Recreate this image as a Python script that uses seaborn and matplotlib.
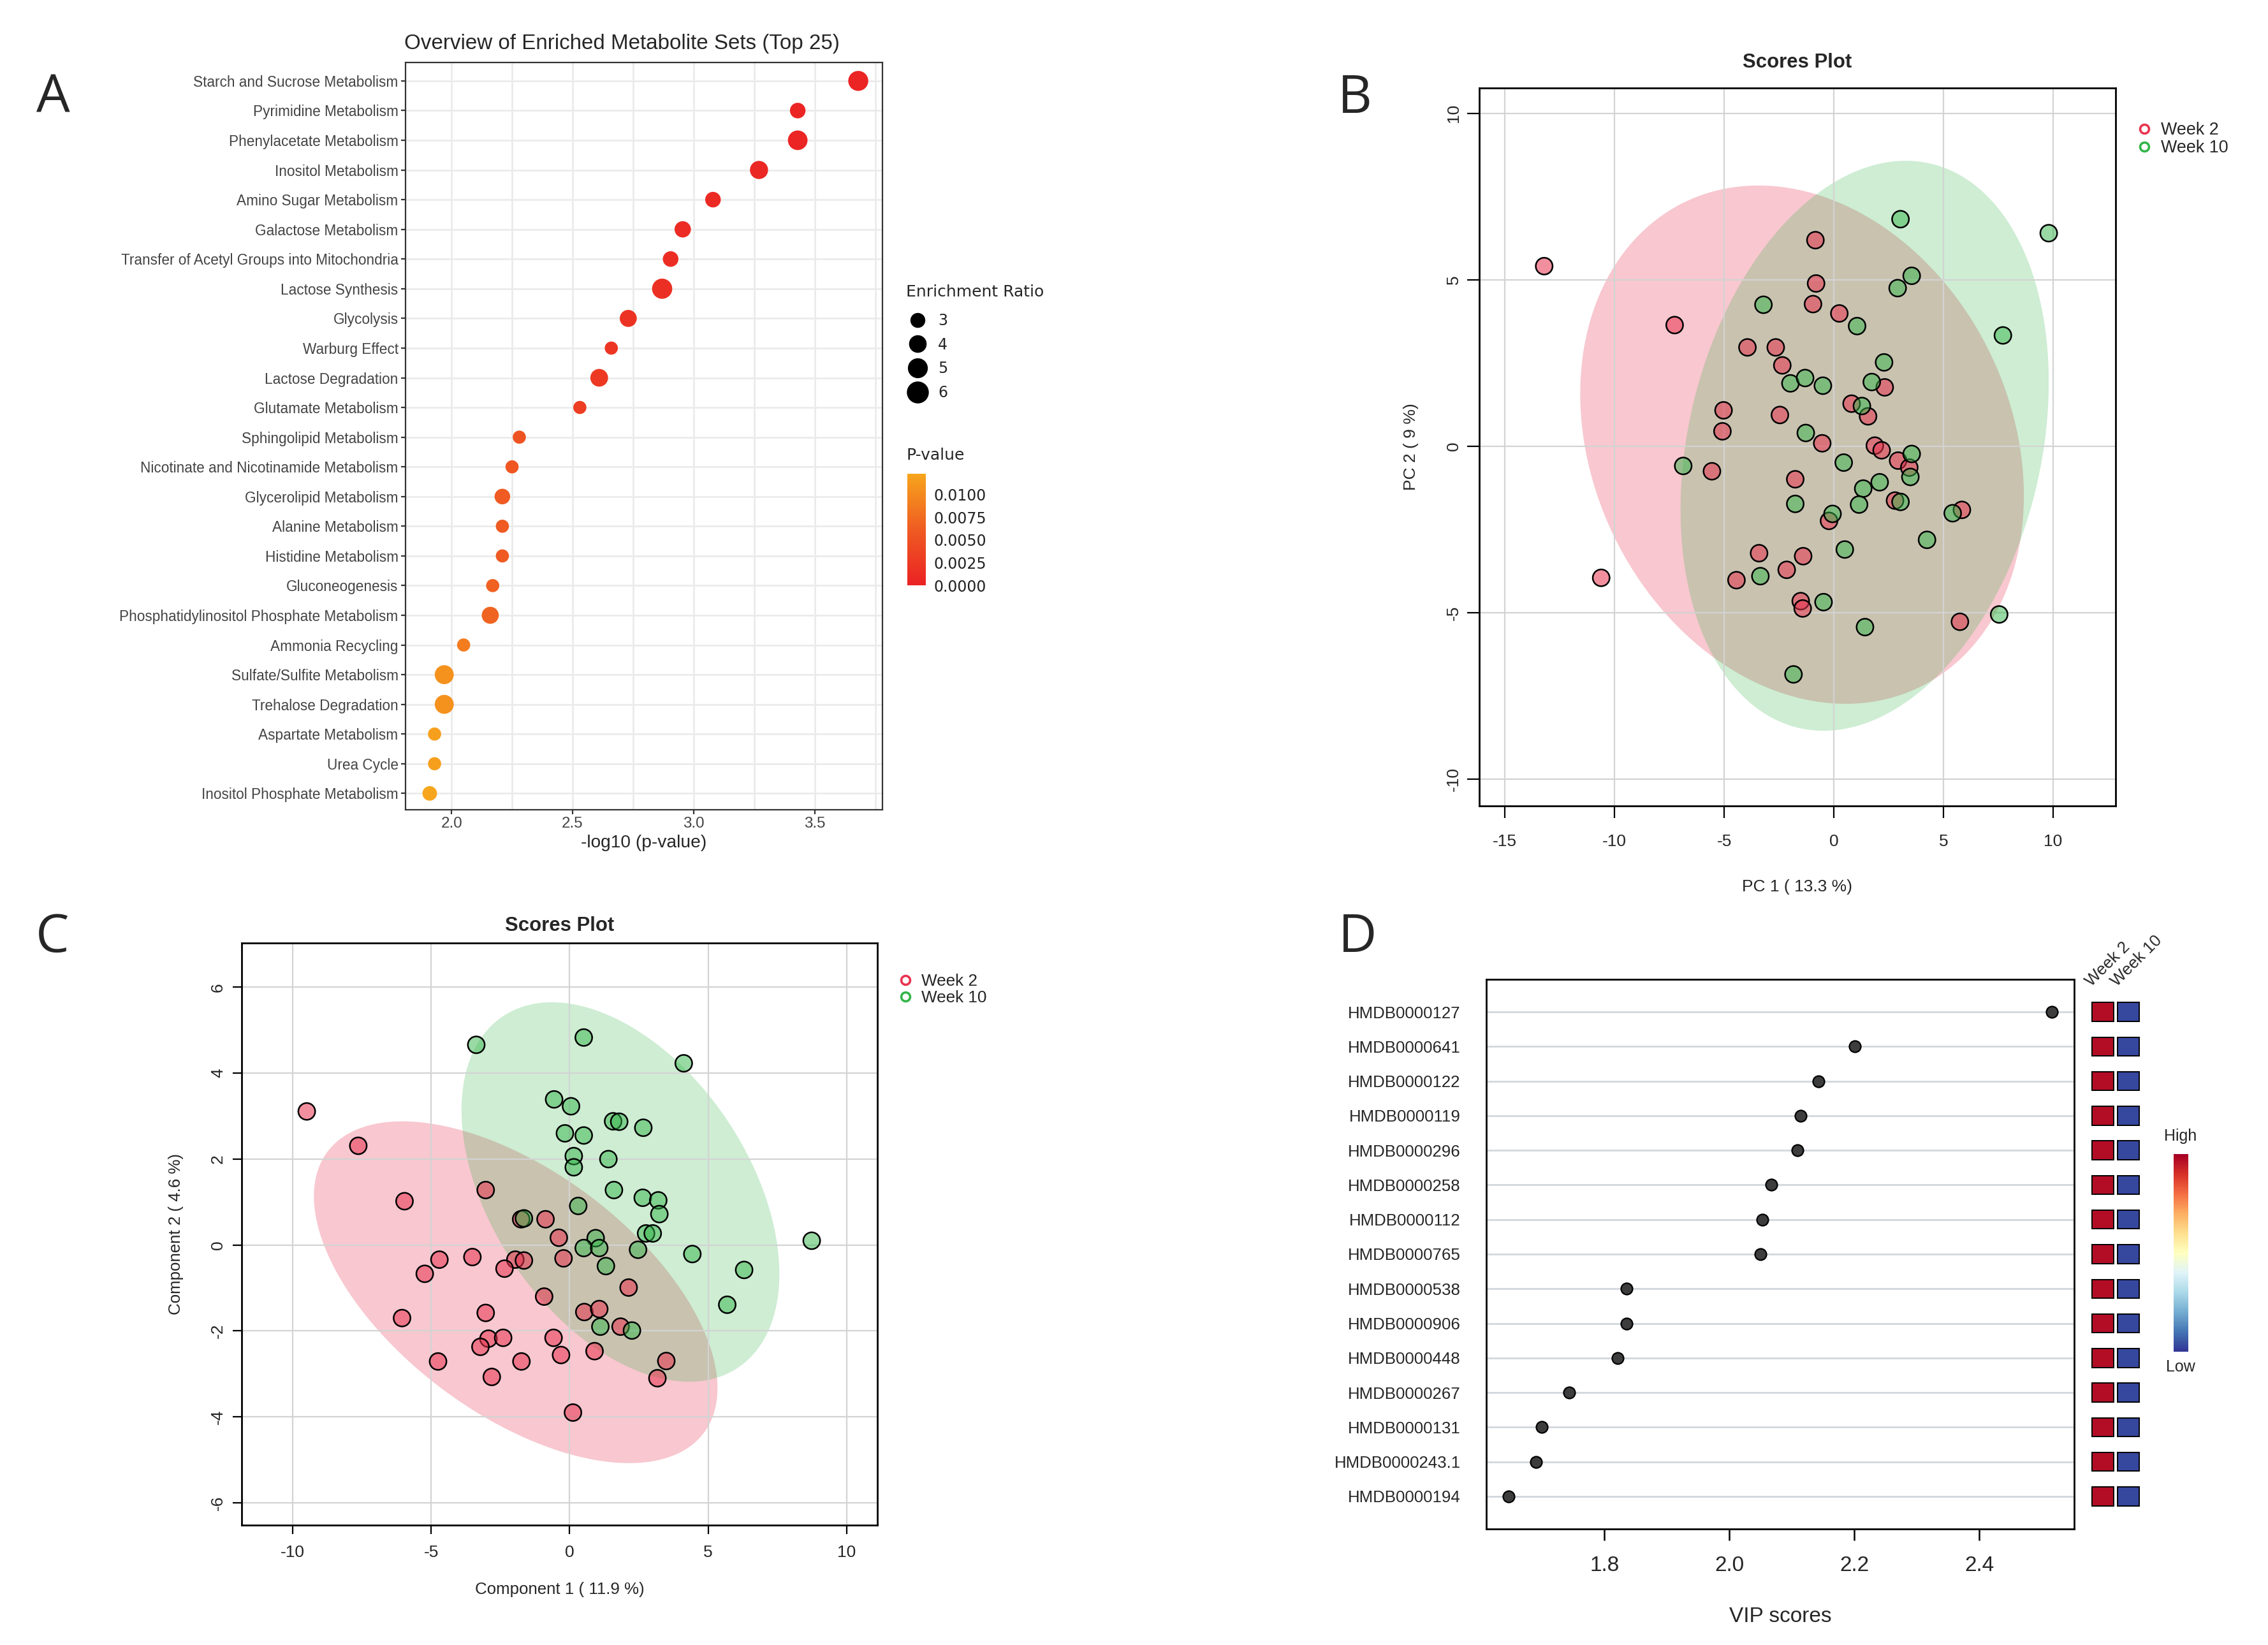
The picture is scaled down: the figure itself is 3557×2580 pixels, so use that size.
import numpy as np
import pandas as pd
import matplotlib
matplotlib.use("Agg")
import matplotlib.pyplot as plt
import matplotlib.cm as cm
from matplotlib import font_manager as fm
from matplotlib.colors import LinearSegmentedColormap, Normalize
from matplotlib.lines import Line2D
import seaborn as sns

# ---------------- A: enrichment overview ----------------
met_sets = ["Starch and Sucrose Metabolism", "Pyrimidine Metabolism", "Phenylacetate Metabolism",
            "Inositol Metabolism", "Amino Sugar Metabolism", "Galactose Metabolism",
            "Transfer of Acetyl Groups into Mitochondria", "Lactose Synthesis", "Glycolysis",
            "Warburg Effect", "Lactose Degradation", "Glutamate Metabolism",
            "Sphingolipid Metabolism", "Nicotinate and Nicotinamide Metabolism",
            "Glycerolipid Metabolism", "Alanine Metabolism", "Histidine Metabolism",
            "Gluconeogenesis", "Phosphatidylinositol Phosphate Metabolism", "Ammonia Recycling",
            "Sulfate/Sulfite Metabolism", "Trehalose Degradation", "Aspartate Metabolism",
            "Urea Cycle", "Inositol Phosphate Metabolism"]
neg_log10_p = [3.68, 3.43, 3.43, 3.27, 3.08, 2.955, 2.905, 2.87, 2.73, 2.66, 2.61, 2.53,
               2.28, 2.25, 2.21, 2.21, 2.21, 2.17, 2.16, 2.05, 1.97, 1.97, 1.93, 1.93, 1.91]
enrichment_ratio = [5.9, 3.9, 5.7, 5.0, 3.9, 4.2, 3.9, 6.3, 4.5, 2.8, 4.8, 2.1,
                    3.0, 3.0, 3.9, 2.6, 2.4, 2.8, 4.5, 1.5, 5.4, 5.4, 1.4, 1.6, 3.5]
ratio_legend = [3, 4, 5, 6]

# ---------------- B: PCA scores ----------------
pca_w2_x = [-13.21, -7.26, -10.61, -0.84, -0.81, -0.95, 0.25, -3.94, -2.65, -2.35, 2.32, 0.81,
            1.56, -5.03, -5.08, -2.46, -0.53, 1.87, 2.18, 2.93, 3.44, -5.56, -1.76, 2.79, 5.84,
            -0.22, -3.41, -1.40, -2.15, -4.44, -1.51, -1.42, 5.75]
pca_w2_y = [5.41, 3.64, -3.95, 6.19, 4.89, 4.27, 3.99, 2.97, 2.97, 2.43, 1.77, 1.28,
            0.90, 1.08, 0.45, 0.94, 0.09, 0.02, -0.12, -0.43, -0.64, -0.75, -0.99, -1.63, -1.91,
            -2.24, -3.21, -3.30, -3.71, -4.02, -4.65, -4.87, -5.27]
pca_w10_x = [3.04, 9.80, 3.55, 2.91, -3.21, 1.06, 7.71, 2.29, 1.73, -1.98, -1.31, -0.50, 1.28,
             -1.28, 3.55, 3.49, -6.87, 0.45, 2.09, 1.34, -1.76, 1.15, 3.04, -0.06, 5.42, 4.25,
             0.50, -3.35, -0.47, 7.54, 1.42, -1.84]
pca_w10_y = [6.82, 6.40, 5.12, 4.75, 4.25, 3.61, 3.33, 2.52, 1.93, 1.89, 2.05, 1.82, 1.21,
             0.40, -0.23, -0.92, -0.59, -0.49, -1.08, -1.27, -1.73, -1.75, -1.67, -2.03, -2.01,
             -2.81, -3.10, -3.90, -4.68, -5.05, -5.43, -6.85]

# ---------------- C: PLS-DA scores ----------------
pls_w2_x = [-9.49, -7.63, -5.96, -3.03, -0.87, -1.75, -0.39, -4.70, -3.51, -1.96, -1.65, -0.22,
            -2.35, -5.23, -0.92, 2.13, -6.05, -3.03, 0.53, 1.07, 1.84, -2.93, -2.40, -0.58,
            -3.22, -4.75, -1.74, -0.31, 0.90, 3.49, -2.81, 3.17, 0.12]
pls_w2_y = [3.11, 2.31, 1.02, 1.28, 0.60, 0.60, 0.17, -0.34, -0.28, -0.34, -0.36, -0.31,
            -0.55, -0.67, -1.20, -0.99, -1.70, -1.58, -1.56, -1.49, -1.90, -2.18, -2.16, -2.16,
            -2.37, -2.71, -2.71, -2.56, -2.47, -2.70, -3.07, -3.10, -3.90]
pls_w10_x = [-3.37, 0.51, 4.12, -0.56, 0.05, 1.57, 1.79, 2.66, -0.17, 0.51, 0.15, 0.15, 1.40,
             1.60, 2.64, 3.20, 3.24, 0.31, -1.65, 0.94, 0.51, 1.07, 2.76, 3.00, 2.47, 4.43,
             8.74, 1.31, 6.30, 5.69, 1.11, 2.25]
pls_w10_y = [4.66, 4.83, 4.23, 3.39, 3.23, 2.88, 2.87, 2.73, 2.60, 2.55, 2.07, 1.81, 2.00,
             1.28, 1.10, 1.04, 0.72, 0.91, 0.62, 0.16, -0.07, -0.07, 0.27, 0.27, -0.11, -0.21,
             0.10, -0.49, -0.58, -1.39, -1.90, -1.99]

# ---------------- D: VIP scores ----------------
hmdb_ids = ["HMDB0000127", "HMDB0000641", "HMDB0000122", "HMDB0000119", "HMDB0000296",
            "HMDB0000258", "HMDB0000112", "HMDB0000765", "HMDB0000538", "HMDB0000906",
            "HMDB0000448", "HMDB0000267", "HMDB0000131", "HMDB0000243.1", "HMDB0000194"]
vip_scores = [2.516, 2.201, 2.143, 2.114, 2.109, 2.067, 2.053, 2.050, 1.836, 1.836,
              1.821, 1.744, 1.700, 1.691, 1.647]
level_week2 = [1.0, 1.0, 1.0, 1.0, 1.0, 1.0, 1.0, 1.0, 1.0, 1.0, 1.0, 1.0, 1.0, 1.0, 1.0]
level_week10 = [0.0, 0.0, 0.0, 0.0, 0.0, 0.0, 0.0, 0.0, 0.0, 0.0, 0.0, 0.0, 0.0, 0.0, 0.0]
groups = ["Week 2", "Week 10"]

# ---------------- style ----------------
sns.set_style("white")
plt.rcParams["font.family"] = ["Liberation Sans", "DejaVu Sans"]
PLAIN = ["DejaVu Sans"]
# panel A uses a narrow face; fall back to Arial-metric sans at a smaller size
if any(f.name == "Liberation Sans Narrow" for f in fm.fontManager.ttflist):
    NARROW, NSCALE = ["Liberation Sans Narrow", "DejaVu Sans"], 1.0
else:
    NARROW, NSCALE = ["Liberation Sans", "DejaVu Sans"], 0.83
RED = "#e8334f"
GREEN = "#33b54a"

W, H, DPI = 3557, 2580, 200
fig = plt.figure(figsize=(W / DPI, H / DPI), dpi=DPI)
fig.patch.set_facecolor("white")


def add_ax(l, t, r, b):
    return fig.add_axes([l / W, 1 - b / H, (r - l) / W, (b - t) / H])


def fx(x):
    return x / W


def fy(y):
    return 1 - y / H


def conf_ellipse(x, y, n=240):
    # 95% data ellipse (chi-square, 2 df)
    x = np.asarray(x)
    y = np.asarray(y)
    vals, vecs = np.linalg.eigh(np.cov(x, y))
    r = np.sqrt(vals * 5.991)
    t = np.linspace(0, 2 * np.pi, n)
    pts = vecs @ np.vstack([r[0] * np.cos(t), r[1] * np.sin(t)])
    return pts[0] + x.mean(), pts[1] + y.mean()


# ================= A =================
axA = add_ax(636, 98, 1384, 1270)
p_vals = 10 ** (-np.array(neg_log10_p))
dfA = pd.DataFrame({"x": neg_log10_p, "row": np.arange(len(met_sets)),
                    "p": p_vals, "ratio": enrichment_ratio})
cmapA = LinearSegmentedColormap.from_list("ro", ["#eb2224", "#ef5b22", "#f7a51c"])
normA = Normalize(0, p_vals.max())
size_rng = (55, 130)
size_norm = (3, 6)
sns.scatterplot(data=dfA, x="x", y="row", hue="p", palette=cmapA, hue_norm=normA,
                size="ratio", sizes=size_rng, size_norm=size_norm, linewidth=0,
                legend=False, ax=axA, zorder=3)
axA.set_xlim(1.81, 3.78)
axA.set_ylim(24.55, -0.62)
axA.set_yticks(range(len(met_sets)))
axA.set_yticklabels(met_sets, fontfamily=NARROW, fontsize=9.8 * NSCALE, color="#444444")
axA.set_xticks([2.0, 2.5, 3.0, 3.5])
axA.set_xticklabels(["2.0", "2.5", "3.0", "3.5"], fontfamily=NARROW, fontsize=10.5 * NSCALE,
                    color="#444444")
axA.set_xticks([2.25, 2.75, 3.25, 3.75], minor=True)
axA.grid(True, which="both", axis="x", color="#ebebeb", lw=1.0)
axA.grid(True, which="major", axis="y", color="#ebebeb", lw=1.0)
axA.set_axisbelow(True)
axA.tick_params(which="major", bottom=True, left=True, length=2.6, width=0.8,
                color="#333333", pad=1.5)
axA.tick_params(which="minor", length=0)
for s in axA.spines.values():
    s.set_color("#333333")
    s.set_linewidth(0.8)
axA.set_xlabel("-log10 (p-value)", fontfamily=NARROW, fontsize=12.2 * NSCALE)
axA.set_ylabel("")
axA.xaxis.set_label_coords(0.5, -(1322 - 1270) / (1270 - 98))
axA.xaxis.label.set_va("center")
fig.text(fx(634), fy(77), "Overview of Enriched Metabolite Sets (Top 25)", ha="left",
         va="baseline", fontfamily=NARROW, fontsize=14.4 * NSCALE)

# size legend
fig.text(fx(1421), fy(458), "Enrichment Ratio", ha="left", va="center",
         fontfamily=PLAIN, fontsize=9)
size_handles = [Line2D([], [], ls="none", marker="o", color="black",
                       markersize=np.sqrt(size_rng[0] + (r - size_norm[0]) / (size_norm[1] - size_norm[0])
                                          * (size_rng[1] - size_rng[0])))
                for r in ratio_legend]
axA.legend(size_handles, [str(r) for r in ratio_legend], loc="upper left",
           bbox_to_anchor=(fx(1425), fy(491)), bbox_transform=fig.transFigure,
           frameon=False, borderpad=0, borderaxespad=0, handlelength=1.2,
           handletextpad=0.75, labelspacing=0.58, prop={"family": PLAIN, "size": 8.5})

# p-value colour bar
fig.text(fx(1422), fy(714), "P-value", ha="left", va="center", fontfamily=PLAIN, fontsize=9)
caxA = add_ax(1423, 743, 1452, 918)
smA = cm.ScalarMappable(norm=normA, cmap=cmapA)
cbA = fig.colorbar(smA, cax=caxA, ticks=[0, 0.0025, 0.005, 0.0075, 0.01])
cbA.outline.set_visible(False)
cbA.ax.set_yticklabels(["0.0000", "0.0025", "0.0050", "0.0075", "0.0100"],
                       fontfamily=PLAIN, fontsize=8.5, color="#222222")
caxA.tick_params(direction="in", length=4, width=0.8, color="white", pad=4.5)


# ================= B and C =================
def scores_panel(ax, w2x, w2y, w10x, w10y, xlim, ylim, xticks, yticks, tick_len, xpad, ypad):
    ex, ey = conf_ellipse(w2x, w2y)
    ax.fill(ex, ey, color=RED, alpha=0.27, lw=0, zorder=1)
    ex, ey = conf_ellipse(w10x, w10y)
    ax.fill(ex, ey, color=GREEN, alpha=0.24, lw=0, zorder=1)
    df = pd.DataFrame({"x": list(w2x) + list(w10x), "y": list(w2y) + list(w10y),
                       "group": ["Week 2"] * len(w2x) + ["Week 10"] * len(w10x)})
    pal = {"Week 2": (0.91, 0.20, 0.31, 0.55), "Week 10": (0.20, 0.71, 0.29, 0.5)}
    sns.scatterplot(data=df, x="x", y="y", hue="group", palette=pal, s=90,
                    edgecolor="black", linewidth=0.9, legend=False, ax=ax, zorder=3)
    ax.set_xlim(*xlim)
    ax.set_ylim(*ylim)
    ax.set_xticks(xticks)
    ax.set_yticks(yticks)
    ax.set_xticklabels([str(t) for t in xticks], fontsize=9.5)
    ax.set_yticklabels([str(t) for t in yticks], fontsize=9.5, rotation=90, va="center")
    ax.grid(True, color="#d3d3d3", lw=0.8)
    ax.set_axisbelow("line")
    ax.tick_params(bottom=True, left=True, length=tick_len, width=0.8, color="black")
    ax.tick_params(axis="x", pad=xpad)
    ax.tick_params(axis="y", pad=ypad)
    for s in ax.spines.values():
        s.set_color("black")
        s.set_linewidth(1.0)


def group_legend(ax, x_left, y_top, size):
    hd = [Line2D([], [], ls="none", marker="o", markerfacecolor="none", markeredgecolor=c,
                 markeredgewidth=1.3, markersize=5) for c in (RED, GREEN)]
    ax.legend(hd, groups, loc="upper left", bbox_to_anchor=(fx(x_left), fy(y_top)),
              bbox_transform=fig.transFigure, frameon=False, borderpad=0, borderaxespad=0,
              handlelength=0.9, handletextpad=0.5, labelspacing=0.08, fontsize=size)


axB = add_ax(2320, 138, 3318, 1264)
scores_panel(axB, pca_w2_x, pca_w2_y, pca_w10_x, pca_w10_y, (-16.17, 12.85), (-10.8, 10.76),
             [-15, -10, -5, 0, 5, 10], [-10, -5, 0, 5, 10], 7, 9, 3)
axB.set_title("Scores Plot", fontsize=11.2, fontweight="bold", pad=(138 - 84) * 72 / DPI - 8)
axB.set_xlabel("PC 1 ( 13.3 %)", fontsize=9.5)
axB.set_ylabel("PC 2 ( 9 %)", fontsize=9.5)
axB.xaxis.set_label_coords(0.5, -(1391 - 1264) / (1264 - 138))
axB.xaxis.label.set_va("center")
axB.yaxis.set_label_coords(-(2320 - 2213) / (3318 - 2320), 0.5)
axB.yaxis.label.set_va("center")
group_legend(axB, 3351, 191, 9.7)

axC = add_ax(379, 1479, 1376, 2392)
scores_panel(axC, pls_w2_x, pls_w2_y, pls_w10_x, pls_w10_y, (-11.84, 11.11), (-6.52, 7.03),
             [-10, -5, 0, 5, 10], [-6, -4, -2, 0, 2, 4, 6], 5, 6, 4)
axC.set_title("Scores Plot", fontsize=11.2, fontweight="bold", pad=(1479 - 1438) * 72 / DPI - 8)
axC.set_xlabel("Component 1 ( 11.9 %)", fontsize=9.3)
axC.set_ylabel("Component 2 ( 4.6 %)", fontsize=9.3)
axC.xaxis.set_label_coords(0.5, -(2493 - 2392) / (2392 - 1479))
axC.xaxis.label.set_va("center")
axC.yaxis.set_label_coords(-(379 - 276) / (1376 - 379), 0.5)
axC.yaxis.label.set_va("center")
group_legend(axC, 1408, 1527, 9.4)

# ================= D =================
axD = add_ax(2331, 1536, 3253, 2398)
dfD = pd.DataFrame({"vip": vip_scores, "row": np.arange(len(hmdb_ids))})
sns.scatterplot(data=dfD, x="vip", y="row", color="#3d3d3d", edgecolor="black", s=42,
                linewidth=0.8, legend=False, ax=axD, zorder=3)
axD.set_xlim(1.611, 2.552)
axD.set_ylim(14.94, -0.94)
axD.set_yticks(range(len(hmdb_ids)))
axD.set_yticklabels(hmdb_ids, fontsize=9.3)
axD.set_xticks([1.8, 2.0, 2.2, 2.4])
axD.set_xticklabels(["1.8", "2.0", "2.2", "2.4"], fontsize=12)
axD.grid(True, axis="y", color="#d2d7dd", lw=1.0)
axD.grid(False, axis="x")
axD.set_axisbelow(True)
axD.tick_params(axis="x", bottom=True, length=6.5, width=0.9, color="black", pad=8.5)
axD.tick_params(axis="y", left=False, length=0, pad=14.5)
for s in axD.spines.values():
    s.set_color("black")
    s.set_linewidth(1.0)
axD.set_xlabel("VIP scores", fontsize=12)
axD.set_ylabel("")
axD.xaxis.set_label_coords(0.5, -(2536 - 2398) / (2398 - 1536))
axD.xaxis.label.set_va("center")

# mini heatmap of group levels
cmapD = plt.get_cmap("RdYlBu_r")
axH = add_ax(3278, 1536, 3358, 2398)
rows = np.arange(len(hmdb_ids))
for col, lev in enumerate([level_week2, level_week10]):
    axH.bar(np.full(len(rows), col), 0.54, bottom=rows - 0.27, width=0.85,
            color=[cmapD(0.03 + 0.94 * v) for v in lev], edgecolor="black", linewidth=0.7)
    axH.text(col - 0.45, -0.72, groups[col], rotation=45, rotation_mode="anchor",
             ha="left", va="baseline", fontsize=9.3)
axH.set_xlim(-0.5, 1.5)
axH.set_ylim(14.94, -0.94)
axH.axis("off")

caxD = add_ax(3409, 1810, 3432, 2120)
cbD = fig.colorbar(cm.ScalarMappable(norm=Normalize(0, 1), cmap=cmapD), cax=caxD)
cbD.outline.set_visible(False)
cbD.set_ticks([])
fig.text(fx(3420), fy(1782), "High", ha="center", va="center", fontsize=9)
fig.text(fx(3420), fy(2144), "Low", ha="center", va="center", fontsize=9)

# panel letters
for letter, (x, y) in {"A": (83, 155), "B": (2125, 156), "C": (82, 1472), "D": (2129, 1472)}.items():
    fig.text(fx(x), fy(y), letter, ha="center", va="center",
             fontfamily=["Open Sans", "DejaVu Sans"], fontsize=30)

fig.savefig("out.png", dpi=DPI, facecolor="white")
